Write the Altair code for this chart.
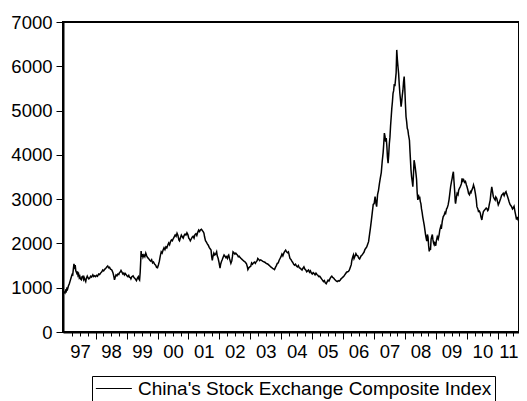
import altair as alt
import pandas as pd

SERIES_NAME = "China's Stock Exchange Composite Index"

# (decimal year, index value)
y1997 = [(1996.95, 920), (1996.98, 900), (1997.01, 880), (1997.03, 935), (1997.05, 915), (1997.07, 980),
         (1997.09, 960), (1997.12, 1040), (1997.15, 1090), (1997.18, 1160), (1997.21, 1230), (1997.24, 1300),
         (1997.26, 1290), (1997.28, 1420), (1997.30, 1540), (1997.32, 1470), (1997.34, 1510), (1997.36, 1380),
         (1997.39, 1330), (1997.41, 1370), (1997.43, 1280), (1997.45, 1310), (1997.47, 1230), (1997.49, 1260),
         (1997.51, 1200), (1997.54, 1180), (1997.56, 1250), (1997.59, 1260), (1997.61, 1190), (1997.63, 1230),
         (1997.66, 1170), (1997.68, 1140), (1997.70, 1210), (1997.73, 1260), (1997.75, 1230), (1997.78, 1200),
         (1997.81, 1220), (1997.84, 1260), (1997.87, 1240), (1997.91, 1290), (1997.94, 1250), (1997.97, 1270)]
y1998 = [(1998.00, 1250), (1998.03, 1280), (1998.06, 1260), (1998.10, 1310), (1998.13, 1300), (1998.16, 1330),
         (1998.20, 1360), (1998.23, 1400), (1998.26, 1380), (1998.30, 1420), (1998.33, 1440), (1998.36, 1470),
         (1998.39, 1490), (1998.42, 1450), (1998.45, 1460), (1998.48, 1420), (1998.51, 1410), (1998.53, 1390),
         (1998.56, 1340), (1998.59, 1250), (1998.61, 1180), (1998.63, 1230), (1998.66, 1290), (1998.69, 1270),
         (1998.72, 1310), (1998.75, 1300), (1998.77, 1340), (1998.80, 1360), (1998.82, 1390), (1998.85, 1350),
         (1998.88, 1310), (1998.91, 1330), (1998.93, 1290), (1998.96, 1320), (1998.98, 1300)]
y1999 = [(1999.01, 1270), (1999.04, 1250), (1999.07, 1280), (1999.09, 1240), (1999.12, 1230), (1999.14, 1200),
         (1999.17, 1250), (1999.21, 1270), (1999.24, 1230), (1999.27, 1210), (1999.30, 1180), (1999.32, 1160),
         (1999.35, 1220), (1999.38, 1250), (1999.40, 1190), (1999.42, 1170), (1999.44, 1350), (1999.46, 1650),
         (1999.47, 1830), (1999.49, 1700), (1999.51, 1760), (1999.53, 1690), (1999.56, 1740), (1999.59, 1700),
         (1999.62, 1780), (1999.65, 1720), (1999.68, 1680), (1999.72, 1650), (1999.75, 1620), (1999.78, 1600),
         (1999.81, 1630), (1999.84, 1560), (1999.87, 1580), (1999.91, 1530), (1999.94, 1510), (1999.97, 1460)]
y2000 = [(2000.00, 1450), (2000.03, 1520), (2000.06, 1600), (2000.09, 1720), (2000.12, 1810), (2000.15, 1780),
         (2000.18, 1850), (2000.21, 1900), (2000.24, 1860), (2000.27, 1920), (2000.30, 1900), (2000.33, 1960),
         (2000.36, 2010), (2000.39, 1970), (2000.42, 2040), (2000.45, 2080), (2000.48, 2060), (2000.51, 2110),
         (2000.54, 2150), (2000.57, 2190), (2000.60, 2160), (2000.63, 2230), (2000.66, 2180), (2000.69, 2080),
         (2000.71, 2060), (2000.74, 2130), (2000.77, 2190), (2000.80, 2150), (2000.83, 2120), (2000.86, 2180),
         (2000.89, 2210), (2000.92, 2190), (2000.95, 2240), (2000.98, 2200)]
y2001 = [(2001.01, 2120), (2001.04, 2090), (2001.06, 2060), (2001.09, 2100), (2001.12, 2140), (2001.15, 2160),
         (2001.18, 2120), (2001.21, 2200), (2001.24, 2220), (2001.27, 2180), (2001.30, 2250), (2001.33, 2300),
         (2001.36, 2270), (2001.39, 2310), (2001.42, 2320), (2001.45, 2290), (2001.48, 2260), (2001.50, 2230),
         (2001.52, 2150), (2001.55, 2060), (2001.58, 2030), (2001.61, 1990), (2001.64, 1960), (2001.67, 1910),
         (2001.70, 1880), (2001.73, 1850), (2001.75, 1700), (2001.77, 1620), (2001.79, 1700), (2001.82, 1780),
         (2001.85, 1740), (2001.88, 1760), (2001.91, 1810), (2001.93, 1720), (2001.96, 1660), (2001.99, 1560)]
y2002 = [(2002.02, 1440), (2002.04, 1530), (2002.07, 1600), (2002.09, 1630), (2002.12, 1690), (2002.15, 1740),
         (2002.18, 1710), (2002.21, 1680), (2002.23, 1700), (2002.26, 1660), (2002.28, 1720), (2002.30, 1740),
         (2002.33, 1650), (2002.35, 1600), (2002.37, 1550), (2002.40, 1610), (2002.42, 1700), (2002.44, 1810),
         (2002.47, 1790), (2002.50, 1760), (2002.53, 1780), (2002.55, 1760), (2002.58, 1740), (2002.61, 1700),
         (2002.64, 1710), (2002.67, 1680), (2002.70, 1660), (2002.73, 1640), (2002.76, 1620), (2002.79, 1600),
         (2002.82, 1590), (2002.85, 1560), (2002.87, 1550), (2002.90, 1480), (2002.92, 1410), (2002.95, 1450),
         (2002.98, 1470)]
y2003 = [(2003.01, 1480), (2003.04, 1560), (2003.07, 1530), (2003.10, 1560), (2003.13, 1580), (2003.16, 1550),
         (2003.19, 1590), (2003.22, 1610), (2003.24, 1660), (2003.27, 1640), (2003.30, 1610), (2003.33, 1630),
         (2003.36, 1620), (2003.39, 1600), (2003.42, 1590), (2003.45, 1580), (2003.48, 1570), (2003.51, 1550),
         (2003.54, 1540), (2003.57, 1530), (2003.60, 1510), (2003.63, 1490), (2003.66, 1470), (2003.70, 1450),
         (2003.73, 1430), (2003.76, 1420), (2003.78, 1410), (2003.81, 1460), (2003.84, 1500), (2003.87, 1550),
         (2003.90, 1560), (2003.93, 1620), (2003.96, 1660), (2003.99, 1700)]
y2004 = [(2004.02, 1760), (2004.05, 1720), (2004.08, 1780), (2004.11, 1820), (2004.14, 1850), (2004.17, 1810),
         (2004.20, 1790), (2004.23, 1810), (2004.26, 1720), (2004.28, 1660), (2004.31, 1640), (2004.34, 1600),
         (2004.37, 1570), (2004.40, 1530), (2004.43, 1510), (2004.46, 1530), (2004.49, 1490), (2004.52, 1470),
         (2004.55, 1500), (2004.58, 1450), (2004.61, 1440), (2004.64, 1420), (2004.67, 1400), (2004.70, 1440),
         (2004.73, 1470), (2004.76, 1420), (2004.79, 1400), (2004.82, 1360), (2004.85, 1380), (2004.88, 1400),
         (2004.91, 1350), (2004.94, 1380), (2004.97, 1330)]
y2005 = [(2005.00, 1310), (2005.03, 1340), (2005.06, 1320), (2005.09, 1290), (2005.12, 1330), (2005.15, 1300),
         (2005.18, 1280), (2005.21, 1250), (2005.24, 1260), (2005.27, 1230), (2005.30, 1200), (2005.33, 1170),
         (2005.36, 1140), (2005.39, 1160), (2005.42, 1110), (2005.45, 1090), (2005.48, 1130), (2005.51, 1170),
         (2005.54, 1150), (2005.57, 1200), (2005.60, 1240), (2005.63, 1260), (2005.66, 1230), (2005.69, 1220),
         (2005.72, 1190), (2005.75, 1170), (2005.78, 1150), (2005.81, 1140), (2005.84, 1160), (2005.87, 1150),
         (2005.90, 1170), (2005.93, 1200), (2005.96, 1220), (2005.99, 1240)]
y2006 = [(2006.02, 1260), (2006.05, 1290), (2006.08, 1320), (2006.11, 1350), (2006.14, 1360), (2006.17, 1370),
         (2006.20, 1400), (2006.23, 1460), (2006.26, 1520), (2006.28, 1620), (2006.31, 1700), (2006.33, 1740),
         (2006.35, 1660), (2006.38, 1710), (2006.41, 1770), (2006.44, 1730), (2006.47, 1720), (2006.50, 1670),
         (2006.53, 1650), (2006.55, 1680), (2006.58, 1720), (2006.61, 1740), (2006.64, 1770), (2006.67, 1800),
         (2006.70, 1860), (2006.73, 1890), (2006.76, 1920), (2006.79, 1980), (2006.82, 2040), (2006.85, 2200),
         (2006.88, 2350), (2006.91, 2520), (2006.94, 2700), (2006.97, 2880)]
y2007 = [(2007.00, 2900), (2007.03, 3060), (2007.06, 2900), (2007.08, 2830), (2007.11, 3100), (2007.14, 3200),
         (2007.17, 3350), (2007.20, 3480), (2007.23, 3600), (2007.26, 3850), (2007.29, 4050), (2007.31, 4250),
         (2007.33, 4490), (2007.35, 4420), (2007.37, 4300), (2007.39, 4380), (2007.41, 4200), (2007.43, 3950),
         (2007.45, 3810), (2007.47, 4000), (2007.49, 4250), (2007.51, 4400), (2007.53, 4650), (2007.55, 4850),
         (2007.57, 5050), (2007.59, 5200), (2007.61, 5390), (2007.63, 5450), (2007.65, 5600), (2007.67, 5550),
         (2007.69, 5700), (2007.71, 5850), (2007.73, 6370), (2007.75, 6150), (2007.77, 5990), (2007.79, 5840),
         (2007.81, 5600), (2007.83, 5390), (2007.85, 5250), (2007.87, 5090), (2007.89, 5200), (2007.91, 5350),
         (2007.93, 5460), (2007.95, 5650), (2007.97, 5770), (2007.99, 5500)]
y2008 = [(2008.01, 5150), (2008.03, 4860), (2008.05, 4750), (2008.07, 4600), (2008.09, 4560), (2008.11, 4450),
         (2008.14, 4330), (2008.16, 4050), (2008.19, 3660), (2008.21, 3500), (2008.23, 3400), (2008.25, 3280),
         (2008.27, 3550), (2008.29, 3880), (2008.31, 3800), (2008.33, 3700), (2008.35, 3580), (2008.37, 3450),
         (2008.39, 3150), (2008.41, 2980), (2008.43, 3100), (2008.45, 3000), (2008.47, 3060), (2008.49, 2950),
         (2008.51, 2900), (2008.53, 2780), (2008.55, 2700), (2008.57, 2600), (2008.60, 2480), (2008.62, 2400),
         (2008.64, 2300), (2008.66, 2200), (2008.68, 2120), (2008.70, 2050), (2008.72, 2200), (2008.74, 2150),
         (2008.76, 1950), (2008.78, 1820), (2008.80, 1900), (2008.82, 1850), (2008.84, 2100), (2008.86, 2150),
         (2008.88, 2200), (2008.90, 2080), (2008.92, 2010), (2008.94, 1970), (2008.96, 2010), (2008.99, 1950)]
y2009 = [(2009.01, 2060), (2009.04, 2150), (2009.07, 2100), (2009.10, 2200), (2009.12, 2300), (2009.15, 2380),
         (2009.17, 2330), (2009.20, 2500), (2009.23, 2600), (2009.26, 2640), (2009.29, 2700), (2009.31, 2680),
         (2009.34, 2780), (2009.36, 2800), (2009.39, 2870), (2009.42, 2990), (2009.44, 3100), (2009.47, 3280),
         (2009.50, 3400), (2009.52, 3470), (2009.54, 3560), (2009.56, 3620), (2009.58, 3400), (2009.60, 3200),
         (2009.62, 2950), (2009.63, 2900), (2009.66, 3050), (2009.68, 3130), (2009.71, 3100), (2009.73, 3200),
         (2009.76, 3250), (2009.79, 3290), (2009.82, 3350), (2009.84, 3470), (2009.86, 3410), (2009.89, 3440),
         (2009.92, 3380), (2009.95, 3400), (2009.98, 3320)]
y2010 = [(2010.00, 3280), (2010.03, 3200), (2010.05, 3130), (2010.08, 3100), (2010.11, 3170), (2010.13, 3150),
         (2010.16, 3210), (2010.19, 3260), (2010.21, 3320), (2010.24, 3250), (2010.27, 3130), (2010.30, 2990),
         (2010.32, 2830), (2010.35, 2780), (2010.37, 2720), (2010.40, 2730), (2010.43, 2680), (2010.45, 2600),
         (2010.48, 2530), (2010.50, 2620), (2010.53, 2720), (2010.56, 2750), (2010.59, 2770), (2010.62, 2800),
         (2010.64, 2790), (2010.67, 2740), (2010.69, 2760), (2010.72, 2880), (2010.75, 2980), (2010.77, 3120),
         (2010.80, 3280), (2010.82, 3190), (2010.85, 3060), (2010.88, 3010), (2010.91, 2980), (2010.93, 3050),
         (2010.96, 3020), (2010.99, 2930)]
y2011 = [(2011.01, 2870), (2011.04, 2920), (2011.07, 2980), (2011.09, 3020), (2011.12, 3090), (2011.15, 3110),
         (2011.17, 3130), (2011.20, 3080), (2011.23, 3140), (2011.26, 3170), (2011.28, 3120), (2011.31, 3060),
         (2011.34, 2990), (2011.36, 2940), (2011.39, 2880), (2011.42, 2850), (2011.44, 2830), (2011.47, 2780),
         (2011.49, 2800), (2011.52, 2840), (2011.55, 2720), (2011.57, 2650), (2011.60, 2540), (2011.62, 2600),
         (2011.64, 2550), (2011.67, 2500)]

y_ticks = [0, 1000, 2000, 3000, 4000, 5000, 6000, 7000]
label_years = list(range(1997, 2012))
x_domain = [1996.946, 2011.68]

rows = []
for part in [y1997, y1998, y1999, y2000, y2001, y2002, y2003, y2004, y2005,
             y2006, y2007, y2008, y2009, y2010, y2011]:
    rows.extend(part)
df = pd.DataFrame(rows, columns=["t", "value"])
df["series"] = SERIES_NAME

quarter_ticks = [y + q / 4 for y in label_years for q in range(4) if y + q / 4 <= x_domain[1]]

FONT = "Liberation Sans"

x_axis = alt.Axis(
    values=quarter_ticks,
    labelExpr="datum.value % 1 == 0 ? slice('0' + (datum.value % 100), -2) : ''",
    labelOffset={"condition": {"test": "datum.value == 2011", "value": 10.5}, "value": 15.4},
    labelFlush=False,
    labelOverlap=False,
    labelPadding=3,
    labelFontSize=18.5,
    tickSize={"condition": {"test": "datum.value % 1 == 0", "value": 7}, "value": 4},
    tickOpacity={"condition": {"test": "datum.value == 1997", "value": 0}, "value": 1},
    grid=False,
    title=None,
)
y_axis = alt.Axis(
    values=y_ticks,
    format="d",
    tickSize=7,
    labelPadding=4,
    labelFontSize=18.5,
    grid=False,
    title=None,
)

chart = alt.Chart(df).mark_line(strokeWidth=1.5).encode(
    x=alt.X("t:Q", scale=alt.Scale(domain=x_domain, nice=False, zero=False), axis=x_axis),
    y=alt.Y("value:Q", scale=alt.Scale(domain=[0, 7000], nice=False), axis=y_axis),
    color=alt.Color(
        "series:N",
        scale=alt.Scale(range=["black"]),
        legend=alt.Legend(
            title=None,
            orient="none",
            legendX=29,
            legendY=354,
            strokeColor="black",
            fillColor="white",
            padding=3,
            symbolType="M-2.4,0H7.6",
            symbolSize=51.84,
            symbolStrokeWidth=1,
            labelFont=FONT,
            labelFontSize=19,
            labelColor="black",
            labelLimit=600,
            labelOffset=24,
        ),
    ),
).properties(
    width=456,
    height=310,
    autosize=alt.AutoSizeParams(type="none"),
    padding={"left": 55, "top": 14, "right": 0, "bottom": 75},
    background="white",
).configure_view(
    stroke="black", strokeWidth=2
).configure_axis(
    domainColor="black", domainWidth=2, tickColor="black", tickWidth=1,
    labelColor="black", labelFont=FONT,
)

chart.save("out.html", embed_options={"renderer": "svg", "actions": False})
